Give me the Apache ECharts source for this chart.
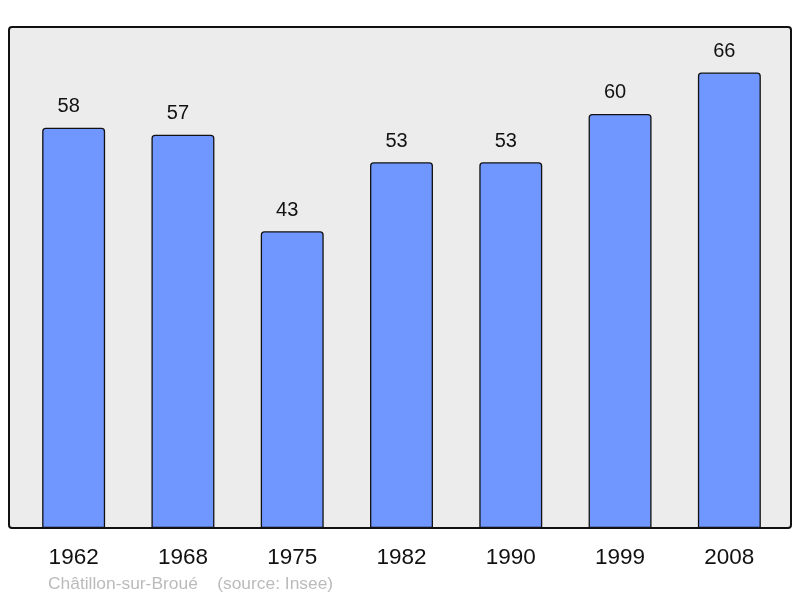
<!DOCTYPE html>
<html>
<head>
<meta charset="utf-8">
<script src="https://cdn.jsdelivr.net/npm/echarts@6/dist/echarts.min.js"></script>
<style>
  html, body { margin: 0; padding: 0; background: #fff; }
  #chart { width: 800px; height: 598px; }
</style>
</head>
<body>
<div id="chart"></div>
<script>
var years = ["1962", "1968", "1975", "1982", "1990", "1999", "2008"];
var population = [58, 57, 43, 53, 53, 60, 66];
var footer = "Châtillon-sur-Broué    (source: Insee)";

var chart = echarts.init(document.getElementById("chart"), null, { renderer: "canvas" });
var font = "'Liberation Sans', Arial, sans-serif";

chart.setOption({
    animation: false,
    backgroundColor: "#fff",
    graphic: [{
        type: "rect",
        z: -10,
        shape: { x: 9, y: 27, width: 782, height: 501, r: 3 },
        style: { fill: "#ececec", stroke: "#111", lineWidth: 2 }
    }],
    title: {
        text: footer,
        left: 48,
        top: 576,
        padding: 0,
        textStyle: { color: "#bbb", fontSize: 17.4, fontWeight: "normal", fontFamily: font }
    },
    grid: { left: 19, right: 16, top: 27, bottom: 70 },
    xAxis: {
        type: "category",
        data: years,
        axisLine: { show: false },
        axisTick: { show: false },
        axisLabel: { color: "#111", fontSize: 22.5, margin: 18, fontFamily: font }
    },
    yAxis: {
        type: "value",
        min: 0,
        max: 72.6,
        show: false,
        splitLine: { show: false }
    },
    series: [{
        type: "bar",
        data: population,
        barWidth: "57.6%",
        itemStyle: { color: "#7096ff", borderColor: "#111", borderWidth: 1.3, borderRadius: [3, 3, 0, 0] },
        label: {
            show: true,
            position: "top",
            distance: 11,
            offset: [-5, 0],
            color: "#111",
            fontSize: 20,
            fontFamily: font
        }
    }]
});
</script>
</body>
</html>
